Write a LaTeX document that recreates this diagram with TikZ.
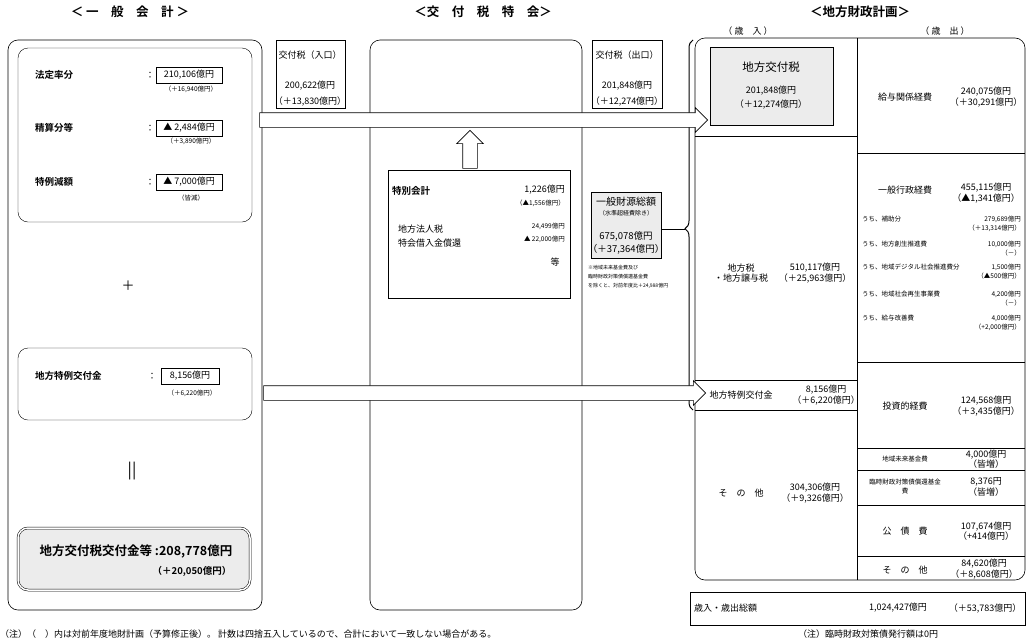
\documentclass[tikz,border=0pt]{standalone}
\usepackage{fontspec}
\setmainfont{Noto Sans CJK JP}[BoldFont={Noto Sans CJK JP Bold}]
\usetikzlibrary{shapes.arrows,decorations.pathreplacing}
\tikzset{
  frame/.style={draw,rounded corners=10pt,line width=0.6pt},
  cell/.style={draw,line width=0.5pt},
  txt/.style={inner sep=0pt,font=\fontsize{10.5}{12}\selectfont},
  sml/.style={inner sep=0pt,font=\fontsize{9}{10.5}\selectfont},
  tny/.style={inner sep=0pt,font=\fontsize{6.5}{9}\selectfont},
  amt/.style={draw,inner sep=2pt,minimum width=64pt,minimum height=16pt,align=right,font=\fontsize{9}{9}\selectfont},
  bigarrow/.style={draw,single arrow,fill=white,line width=0.6pt,inner sep=7pt,
    single arrow head extend=5pt}
}
\begin{document}
\begin{tikzpicture}[x=1pt,y=-1pt]
  \useasboundingbox (0,0) rectangle (1030,643);%

  % titles
  \node[txt,font=\fontsize{12.5}{13}\selectfont\bfseries] (T1) at (130,12) {＜ 一　般　会　計 ＞};%
  \node[txt,font=\fontsize{12.5}{13}\selectfont\bfseries] (T2) at (483,12) {＜交　付　税　特　会＞};%
  \node[txt,font=\fontsize{12.5}{13}\selectfont\bfseries] (T3) at (860,12) {＜地方財政計画＞};%
  \node[sml] (RevH) at (748,31) {（ 歳　入 ）};%
  \node[sml] (ExpH) at (945,31) {（ 歳　出 ）};%

  % general account
  \draw[frame] (8,40) rectangle (262,610);%
  \draw[frame,line width=0.4pt] (18,48) rectangle (252,222);%
  \draw[frame,line width=0.4pt] (18,348) rectangle (252,420);%

  \node[sml,anchor=west,font=\fontsize{9.5}{10}\selectfont\bfseries] (L1) at (35,75) {法定率分};%
  \node[sml] (C1) at (150,75) {：};%
  \node[amt,minimum width=66pt] (A1) at (189,75) {210,106億円};%
  \node[tny] (S1) at (191,89) {（＋16,940億円）};%
  \node[sml,anchor=west,font=\fontsize{9.5}{10}\selectfont\bfseries] (L2) at (35,128) {精算分等};%
  \node[sml] (C2) at (150,128) {：};%
  \node[amt,minimum width=66pt] (A2) at (189,128) {▲ 2,484億円};%
  \node[tny] (S2) at (191,141) {（＋3,890億円）};%
  \node[sml,anchor=west,font=\fontsize{9.5}{10}\selectfont\bfseries] (L3) at (35,182) {特例減額};%
  \node[sml] (C3) at (150,182) {：};%
  \node[amt,minimum width=66pt] (A3) at (189,182) {▲ 7,000億円};%
  \node[tny] (S3) at (191,198) {（皆減）};%

  \node[txt,font=\fontsize{13}{13}\selectfont] (Plus) at (128,286) {＋};%

  \node[sml,anchor=west,font=\fontsize{9.5}{10}\selectfont\bfseries] (L4) at (35,376) {地方特例交付金};%
  \node[sml] (C4) at (152,376) {：};%
  \node[amt,minimum width=58pt] (A4) at (190,376) {8,156億円};%
  \node[tny] (S4) at (192,393) {（＋6,220億円）};%

  \node[txt,font=\fontsize{16}{16}\selectfont] (Eq) at (132,471) {||};%

  \draw[rounded corners=10pt,fill=gray!15,double,double distance=1.5pt,line width=0.5pt] (18,528) rectangle (250,590);%
  \node[txt,font=\fontsize{12.5}{13}\selectfont\bfseries] (Tot) at (136,551) {地方交付税交付金等 :208,778億円};%
  \node[txt,font=\fontsize{9.5}{10}\selectfont\bfseries] (TotS) at (192,571) {（＋20,050億円）};%

  % special account
  \draw[cell] (276,40) rectangle (345,108);%
  \node[sml] (In1) at (310,55) {交付税（入口）};%
  \node[sml] (In2) at (310,86) {200,622億円};%
  \node[sml] (In3) at (310,101) {（＋13,830億円）};%
  \draw[frame] (370,40) rectangle (582,610);%
  \draw[cell] (592,40) rectangle (662,108);%
  \node[sml] (Out1) at (627,55) {交付税（出口）};%
  \node[sml] (Out2) at (627,86) {201,848億円};%
  \node[sml] (Out3) at (627,101) {（＋12,274億円）};%

  \node[bigarrow,rotate=90,minimum height=38pt,inner sep=7pt,single arrow head extend=6pt] (Up) at (470,153) {};%

  \draw[cell,line width=0.8pt] (388,170) rectangle (570,298);%
  \node[sml,anchor=west,font=\fontsize{9.5}{10}\selectfont\bfseries] (Sp1) at (392,191) {特別会計};%
  \node[sml,anchor=east] (Sp2) at (565,190) {1,226億円};%
  \node[tny,anchor=east] (Sp3) at (565,203) {（▲1,556億円）};%
  \node[sml,anchor=west] (Sp4) at (398,229) {地方法人税};%
  \node[sml,anchor=west] (Sp5) at (398,243) {特会借入金償還};%
  \node[tny,anchor=east] (Sp6) at (565,226) {24,499億円};%
  \node[tny,anchor=east] (Sp7) at (565,239) {▲ 22,000億円};%
  \node[sml] (Sp8) at (555,262) {等};%

  \draw[cell,fill=gray!15,line width=0.8pt] (591,192) rectangle (661,258);%
  \node[txt,font=\fontsize{10}{11}\selectfont] (G1) at (626,202) {一般財源総額};%
  \node[tny,font=\fontsize{6}{7}\selectfont] (G2) at (626,213) {（水準超経費除き）};%
  \node[txt,font=\fontsize{9.5}{10}\selectfont] (G3) at (626,236) {675,078億円};%
  \node[txt,font=\fontsize{9.5}{10}\selectfont] (G4) at (626,249) {（＋37,364億円）};%
  \node[tny,anchor=west,align=left,font=\fontsize{5}{9}\selectfont] (G5) at (588,277)
    {※地域未来基金費及び\\臨時財政対策債償還基金費\\を除くと、対前年度比＋24,988億円};%

  \draw[decorate,decoration={brace,amplitude=8pt,aspect=0.49},line width=1pt] (693,410) -- (693,40);%
  \coordinate (Tip) at (685,229);%
  \draw[line width=1pt] (661,229) -- (Tip);%

  % local finance plan
  \draw[frame] (695,38) rectangle (1025,580);%
  \draw[cell] (857,38) -- (857,580);%
  \draw[cell] (695,136) -- (857,136);%
  \draw[cell] (695,380) -- (857,380);%
  \draw[cell] (695,410) -- (857,410);%
  \draw[cell] (857,153) -- (1025,153);%
  \draw[cell] (857,362) -- (1025,362);%
  \draw[cell] (857,448) -- (1025,448);%
  \draw[cell] (857,470) -- (1025,470);%
  \draw[cell] (857,505) -- (1025,505);%
  \draw[cell] (857,556) -- (1025,556);%

  \draw[cell,fill=gray!15,line width=0.8pt] (710,47) rectangle (833,125);%
  \node[txt,font=\fontsize{11.5}{12}\selectfont] (R1) at (771,67) {地方交付税};%
  \node[sml] (R1a) at (771,91) {201,848億円};%
  \node[sml] (R1b) at (771,104) {（＋12,274億円）};%
  \node[sml,align=center] (R2) at (741,273) {地方税\\・地方譲与税};%
  \node[sml,align=center] (R2a) at (815,273) {510,117億円\\（＋25,963億円）};%
  \node[sml] (R3) at (741,395) {地方特例交付金};%
  \node[sml,align=center] (R3a) at (826,395) {8,156億円\\（＋6,220億円）};%
  \node[sml] (R4) at (741,493) {そ　の　他};%
  \node[sml,align=center] (R4a) at (815,493) {304,306億円\\（＋9,326億円）};%

  \node[sml] (E1) at (905,97) {給与関係経費};%
  \node[sml,align=center] (E1a) at (986,97) {240,075億円\\（＋30,291億円）};%
  \node[sml] (E2) at (905,190) {一般行政経費};%
  \node[sml,align=center] (E2a) at (986,193) {455,115億円\\（▲1,341億円）};%
  \node[tny,anchor=west] (E3) at (862,219) {うち、補助分};%
  \node[tny,anchor=east,align=right] (E3a) at (1021,224) {279,689億円\\（＋13,314億円）};%
  \node[tny,anchor=west] (E4) at (862,244) {うち、地方創生推進費};%
  \node[tny,anchor=east,align=right] (E4a) at (1021,249) {10,000億円\\（－）};%
  \node[tny,anchor=west] (E5) at (862,267) {うち、地域デジタル社会推進費分};%
  \node[tny,anchor=east,align=right] (E5a) at (1021,272) {1,500億円\\（▲500億円）};%
  \node[tny,anchor=west] (E6) at (862,294) {うち、地域社会再生事業費};%
  \node[tny,anchor=east,align=right] (E6a) at (1021,299) {4,200億円\\（－）};%
  \node[tny,anchor=west] (E7) at (862,318) {うち、給与改善費};%
  \node[tny,anchor=east,align=right] (E7a) at (1021,323) {4,000億円\\（+2,000億円）};%
  \node[sml] (E8) at (905,406) {投資的経費};%
  \node[sml,align=center] (E8a) at (986,406) {124,568億円\\（＋3,435億円）};%
  \node[tny] (E9) at (905,459) {地域未来基金費};%
  \node[sml,align=center] (E9a) at (986,459) {4,000億円\\（皆増）};%
  \node[tny,align=center] (E10) at (905,487) {臨時財政対策債償還基金\\費};%
  \node[sml,align=center] (E10a) at (986,487) {8,376円\\（皆増）};%
  \node[sml] (E11) at (905,531) {公　債　費};%
  \node[sml,align=center] (E11a) at (986,531) {107,674億円\\（+414億円）};%
  \node[sml] (E12) at (905,570) {そ　の　他};%
  \node[sml,align=center] (E12a) at (984,569) {84,620億円\\（＋8,608億円）};%

  \draw[cell] (690,592) rectangle (1025,625);%
  \node[sml,anchor=west] (Sum) at (694,608) {歳入・歳出総額};%
  \node[sml] (Suma) at (898,608) {1,024,427億円};%
  \node[sml] (Sumb) at (985,608) {（＋53,783億円）};%

  % hollow arrows
  \node[bigarrow,minimum height=448pt] (Arr1) at (480,120) {};%
  \node[bigarrow,minimum height=442pt] (Arr2) at (481,393) {};%

  % notes
  \node[sml,anchor=west] (N1) at (0,634) {（注）（　）内は対前年度地財計画（予算修正後）。 計数は四捨五入しているので、合計において一致しない場合がある。};%
  \node[sml] (N2) at (868,634) {（注）臨時財政対策債発行額は0円};%
\end{tikzpicture}
\end{document}
